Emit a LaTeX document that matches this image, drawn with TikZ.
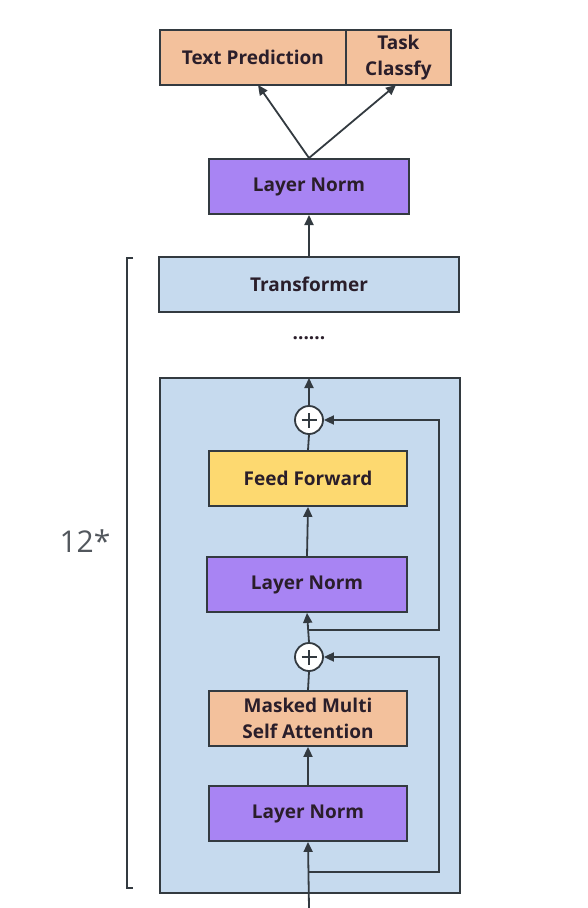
\documentclass[tikz,border=0pt]{standalone}
\usepackage{fontspec}
\setmainfont{Open Sans}
\usetikzlibrary{arrows.meta}
\definecolor{salmon}{HTML}{F3C19C}
\definecolor{lnpurple}{HTML}{A884F3}
\definecolor{ltblue}{HTML}{C6DAEE}
\definecolor{ffyellow}{HTML}{FDD970}
\definecolor{edge}{HTML}{333A40}
\definecolor{txt}{HTML}{2A1E2A}
\tikzset{
  box/.style={draw=edge, line width=1.8pt, minimum height=55pt, inner sep=0pt, font=\bfseries\fontsize{19}{26}\selectfont, text=txt, align=center},
  conn/.style={draw=edge, line width=1.8pt},
  arr/.style={conn, -{Triangle[length=10pt,width=9pt]}},
  plusnode/.style={circle, draw=edge, fill=white, line width=1.8pt, minimum size=28pt, inner sep=0pt}
}
\begin{document}
\begin{tikzpicture}[x=1pt,y=-1pt]
\useasboundingbox (0,0) rectangle (588,908);
% outer box
\node[box, fill=ltblue, minimum width=300pt, minimum height=515pt, anchor=north west] (big) at (159,377) {};
\node[box, fill=ltblue, minimum width=300pt] (trans) at (309,284.5) {Transformer};
\node[font=\bfseries\fontsize{19}{22}\selectfont, text=txt] (dots) at (309,338) {......};
% top outputs
\node[box, fill=salmon, minimum width=186pt, anchor=north west] (tp) at (159,29) {Text Prediction};
\node[box, fill=salmon, minimum width=105pt, anchor=north west, font=\bfseries\fontsize{19}{26}\selectfont] (tc) at (345,29) {Task\\Classfy};
\node[box, fill=lnpurple, minimum width=200pt] (ln0) at (309,186.5) {Layer Norm};
% block
\node[plusnode] (p1) at (309,420) {};
\node[box, fill=ffyellow, minimum width=198pt] (ff) at (308,478.5) {Feed Forward};
\node[box, fill=lnpurple, minimum width=200pt] (ln1) at (307,584.5) {Layer Norm};
\node[plusnode] (p2) at (309,657) {};
\node[box, fill=salmon, minimum width=198pt] (mm) at (308,718.5) {Masked Multi\\Self Attention};
\node[box, fill=lnpurple, minimum width=198pt] (ln2) at (308,813.5) {Layer Norm};
\draw[edge, line width=1.6pt] ([xshift=-7.5pt]p1.center) -- ([xshift=7.5pt]p1.center) ([yshift=-7.5pt]p1.center) -- ([yshift=7.5pt]p1.center);
\draw[edge, line width=1.6pt] ([xshift=-7.5pt]p2.center) -- ([xshift=7.5pt]p2.center) ([yshift=-7.5pt]p2.center) -- ([yshift=7.5pt]p2.center);
% coordinates
\coordinate (in) at (309,908);
\coordinate (s2) at (309,872);
\coordinate (s1) at (309,630);
\coordinate (s2r) at (439,872);
\coordinate (s1r) at (439,630);
\coordinate (bigtop) at (309,378);
\coordinate (ln0b) at (309,215);
\coordinate (split) at (309,158);
% connectors
\draw[arr] (in) -- (ln2.south);
\draw[arr] (ln2.north) -- (mm.south);
\draw[conn] (mm.north) -- (p2.south);
\draw[arr] (p2.north) -- (ln1.south);
\draw[arr] (ln1.north) -- (ff.south);
\draw[conn] (ff.north) -- (p1.south);
\draw[arr] (p1.north) -- (bigtop);
\draw[arr] (s2) -- (s2r) |- (p2.east);
\draw[arr] (s1) -- (s1r) |- (p1.east);
\draw[arr] (trans.north) -- (ln0b);
\draw[arr] (split) -- (258,85);
\draw[arr] (split) -- (396,85);
% bracket
\draw[conn, line width=1.6pt] (133,258) -- (127,258) -- (127,888) -- (133,888);
\node[font=\fontsize{30}{34}\selectfont, text=edge!85] (rep) at (85,541) {12*};
\end{tikzpicture}
\end{document}
